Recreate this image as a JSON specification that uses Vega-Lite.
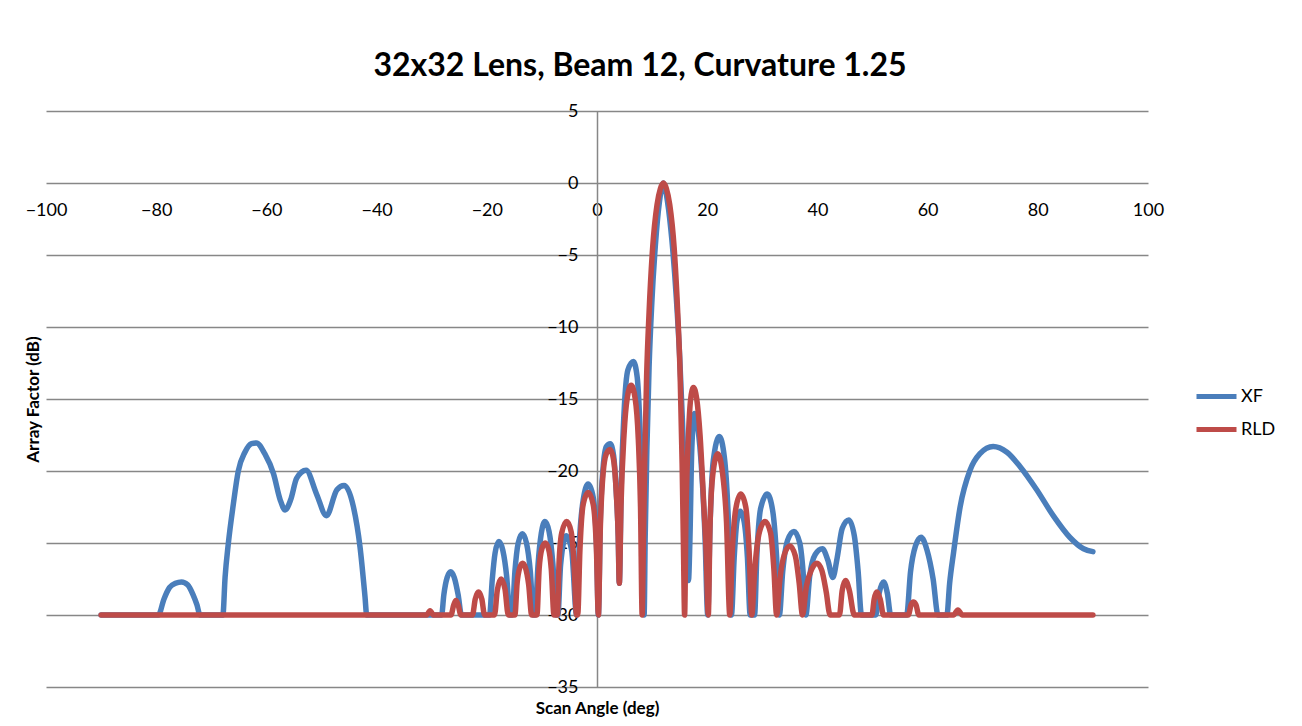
{
  "$schema": "https://vega.github.io/schema/vega-lite/v6.json",
  "autosize": {"type": "none"},
  "padding": {"left": 46, "top": 111, "right": 154, "bottom": 39},
  "width": 1102,
  "height": 576,
  "background": "white",
  "title": {
    "text": "32x32 Lens, Beam 12, Curvature 1.25",
    "font": "Lato",
    "fontSize": 32,
    "fontWeight": "bold",
    "color": "#000000",
    "anchor": "middle",
    "dx": 43,
    "offset": 19
  },
  "config": {
    "view": {"stroke": null},
    "font": "Lato"
  },
  "datasets": {
    "curves": [
      {"series": "XF", "angle": -90, "af": -30},
      {"series": "XF", "angle": -79.6, "af": -30},
      {"series": "XF", "angle": -78.6, "af": -28.9},
      {"series": "XF", "angle": -77.6, "af": -28.1},
      {"series": "XF", "angle": -76.5, "af": -27.8},
      {"series": "XF", "angle": -75.4, "af": -27.7},
      {"series": "XF", "angle": -74.3, "af": -27.9},
      {"series": "XF", "angle": -73.3, "af": -28.6},
      {"series": "XF", "angle": -72.6, "af": -29.3},
      {"series": "XF", "angle": -72.05, "af": -30},
      {"series": "XF", "angle": -67.9, "af": -30},
      {"series": "XF", "angle": -67.5, "af": -27.4},
      {"series": "XF", "angle": -66.9, "af": -25},
      {"series": "XF", "angle": -66.0, "af": -22.3},
      {"series": "XF", "angle": -65.1, "af": -20},
      {"series": "XF", "angle": -63.9, "af": -18.7},
      {"series": "XF", "angle": -62.7, "af": -18.1},
      {"series": "XF", "angle": -61.8, "af": -18.05},
      {"series": "XF", "angle": -60.3, "af": -18.8},
      {"series": "XF", "angle": -58.7, "af": -20.2},
      {"series": "XF", "angle": -57.5, "af": -22.0},
      {"series": "XF", "angle": -56.6, "af": -22.7},
      {"series": "XF", "angle": -55.6, "af": -22.0},
      {"series": "XF", "angle": -54.5, "af": -20.5},
      {"series": "XF", "angle": -52.8, "af": -19.95},
      {"series": "XF", "angle": -50.9, "af": -21.6},
      {"series": "XF", "angle": -49.1, "af": -23.1},
      {"series": "XF", "angle": -47.2, "af": -21.3},
      {"series": "XF", "angle": -45.9, "af": -21.0},
      {"series": "XF", "angle": -44.2, "af": -22.5},
      {"series": "XF", "angle": -43.0, "af": -25.3},
      {"series": "XF", "angle": -42.1, "af": -28.75},
      {"series": "XF", "angle": -41.8, "af": -30},
      {"series": "XF", "angle": -28.2, "af": -30},
      {"series": "XF", "angle": -27.8, "af": -28.6},
      {"series": "XF", "angle": -27.2, "af": -27.4},
      {"series": "XF", "angle": -26.55, "af": -27.0},
      {"series": "XF", "angle": -25.9, "af": -27.4},
      {"series": "XF", "angle": -25.2, "af": -28.6},
      {"series": "XF", "angle": -24.6, "af": -30},
      {"series": "XF", "angle": -19.5, "af": -30},
      {"series": "XF", "angle": -19.0, "af": -27.5},
      {"series": "XF", "angle": -18.5, "af": -25.7},
      {"series": "XF", "angle": -17.8, "af": -24.9},
      {"series": "XF", "angle": -17.1, "af": -25.5},
      {"series": "XF", "angle": -16.4, "af": -27.3},
      {"series": "XF", "angle": -15.8, "af": -30},
      {"series": "XF", "angle": -15.4, "af": -30},
      {"series": "XF", "angle": -14.9, "af": -27},
      {"series": "XF", "angle": -14.3, "af": -25},
      {"series": "XF", "angle": -13.55, "af": -24.35},
      {"series": "XF", "angle": -12.8, "af": -25},
      {"series": "XF", "angle": -12.1, "af": -27},
      {"series": "XF", "angle": -11.55, "af": -30},
      {"series": "XF", "angle": -11.25, "af": -30},
      {"series": "XF", "angle": -10.7, "af": -26.5},
      {"series": "XF", "angle": -10.1, "af": -24.3},
      {"series": "XF", "angle": -9.44, "af": -23.5},
      {"series": "XF", "angle": -8.7, "af": -24.2},
      {"series": "XF", "angle": -8.0, "af": -26.5},
      {"series": "XF", "angle": -7.4, "af": -30},
      {"series": "XF", "angle": -7.1, "af": -30},
      {"series": "XF", "angle": -6.6, "af": -26.5},
      {"series": "XF", "angle": -5.6, "af": -24.5},
      {"series": "XF", "angle": -4.6, "af": -25.5},
      {"series": "XF", "angle": -3.7, "af": -30},
      {"series": "XF", "angle": -3.2, "af": -25},
      {"series": "XF", "angle": -2.5, "af": -22},
      {"series": "XF", "angle": -1.6, "af": -20.9},
      {"series": "XF", "angle": -0.7, "af": -21.8},
      {"series": "XF", "angle": -0.1, "af": -25},
      {"series": "XF", "angle": 0.25, "af": -30},
      {"series": "XF", "angle": 0.6, "af": -23.5},
      {"series": "XF", "angle": 1.1, "af": -19.8},
      {"series": "XF", "angle": 1.7, "af": -18.3},
      {"series": "XF", "angle": 2.4, "af": -18.1},
      {"series": "XF", "angle": 3.0, "af": -18.9},
      {"series": "XF", "angle": 3.5, "af": -21.5},
      {"series": "XF", "angle": 3.85, "af": -24.5},
      {"series": "XF", "angle": 4.05, "af": -27.8},
      {"series": "XF", "angle": 4.4, "af": -21},
      {"series": "XF", "angle": 4.9, "af": -16},
      {"series": "XF", "angle": 5.6, "af": -13},
      {"series": "XF", "angle": 6.6, "af": -12.4},
      {"series": "XF", "angle": 7.3, "af": -13.5},
      {"series": "XF", "angle": 7.8, "af": -17},
      {"series": "XF", "angle": 8.2, "af": -22},
      {"series": "XF", "angle": 8.55, "af": -30},
      {"series": "XF", "angle": 8.75, "af": -24.5},
      {"series": "XF", "angle": 9.05, "af": -18.5},
      {"series": "XF", "angle": 9.45, "af": -12.8},
      {"series": "XF", "angle": 9.95, "af": -8.3},
      {"series": "XF", "angle": 10.6, "af": -4.3},
      {"series": "XF", "angle": 11.3, "af": -1.4},
      {"series": "XF", "angle": 12.05, "af": 0},
      {"series": "XF", "angle": 12.8, "af": -1.3},
      {"series": "XF", "angle": 13.6, "af": -4},
      {"series": "XF", "angle": 14.4, "af": -8},
      {"series": "XF", "angle": 15.0, "af": -12},
      {"series": "XF", "angle": 15.5, "af": -16.5},
      {"series": "XF", "angle": 16.0, "af": -21.5},
      {"series": "XF", "angle": 16.35, "af": -25},
      {"series": "XF", "angle": 16.6, "af": -27.6},
      {"series": "XF", "angle": 16.85, "af": -25},
      {"series": "XF", "angle": 17.2, "af": -18.5},
      {"series": "XF", "angle": 17.7, "af": -16.0},
      {"series": "XF", "angle": 18.3, "af": -17},
      {"series": "XF", "angle": 19.0, "af": -20},
      {"series": "XF", "angle": 19.6, "af": -24.5},
      {"series": "XF", "angle": 20.1, "af": -30},
      {"series": "XF", "angle": 20.5, "af": -24},
      {"series": "XF", "angle": 21.1, "af": -19.3},
      {"series": "XF", "angle": 22.2, "af": -17.6},
      {"series": "XF", "angle": 23.1, "af": -19},
      {"series": "XF", "angle": 23.8, "af": -23},
      {"series": "XF", "angle": 24.4, "af": -30},
      {"series": "XF", "angle": 24.9, "af": -26},
      {"series": "XF", "angle": 25.4, "af": -23.5},
      {"series": "XF", "angle": 26.0, "af": -22.8},
      {"series": "XF", "angle": 26.7, "af": -23.5},
      {"series": "XF", "angle": 27.3, "af": -26},
      {"series": "XF", "angle": 27.8, "af": -30},
      {"series": "XF", "angle": 28.6, "af": -30},
      {"series": "XF", "angle": 29.0, "af": -26},
      {"series": "XF", "angle": 29.7, "af": -22.6},
      {"series": "XF", "angle": 30.9, "af": -21.6},
      {"series": "XF", "angle": 31.9, "af": -22.8},
      {"series": "XF", "angle": 32.6, "af": -26},
      {"series": "XF", "angle": 33.1, "af": -30},
      {"series": "XF", "angle": 33.7, "af": -27},
      {"series": "XF", "angle": 34.6, "af": -24.8},
      {"series": "XF", "angle": 35.75, "af": -24.2},
      {"series": "XF", "angle": 36.8, "af": -25},
      {"series": "XF", "angle": 37.4, "af": -27},
      {"series": "XF", "angle": 37.9, "af": -30},
      {"series": "XF", "angle": 38.6, "af": -27.3},
      {"series": "XF", "angle": 39.6, "af": -25.8},
      {"series": "XF", "angle": 40.9, "af": -25.4},
      {"series": "XF", "angle": 41.9, "af": -26.2},
      {"series": "XF", "angle": 42.8, "af": -27.4},
      {"series": "XF", "angle": 43.6, "af": -26},
      {"series": "XF", "angle": 44.5, "af": -24},
      {"series": "XF", "angle": 45.7, "af": -23.4},
      {"series": "XF", "angle": 46.7, "af": -24.5},
      {"series": "XF", "angle": 47.4, "af": -27},
      {"series": "XF", "angle": 48.0, "af": -30},
      {"series": "XF", "angle": 50.6, "af": -30},
      {"series": "XF", "angle": 51.2, "af": -28.5},
      {"series": "XF", "angle": 52.0, "af": -27.7},
      {"series": "XF", "angle": 52.7, "af": -28.5},
      {"series": "XF", "angle": 53.3, "af": -30},
      {"series": "XF", "angle": 56.2, "af": -30},
      {"series": "XF", "angle": 56.9, "af": -27},
      {"series": "XF", "angle": 57.8, "af": -25.2},
      {"series": "XF", "angle": 58.8, "af": -24.6},
      {"series": "XF", "angle": 59.9, "af": -25.5},
      {"series": "XF", "angle": 61.0, "af": -27.5},
      {"series": "XF", "angle": 61.9, "af": -30},
      {"series": "XF", "angle": 63.5, "af": -30},
      {"series": "XF", "angle": 64.0, "af": -27.8},
      {"series": "XF", "angle": 64.7, "af": -25.7},
      {"series": "XF", "angle": 65.9, "af": -22.5},
      {"series": "XF", "angle": 67.7, "af": -19.95},
      {"series": "XF", "angle": 69.5, "af": -18.8},
      {"series": "XF", "angle": 71.9, "af": -18.3},
      {"series": "XF", "angle": 74.4, "af": -18.7},
      {"series": "XF", "angle": 76.8, "af": -19.7},
      {"series": "XF", "angle": 79.8, "af": -21.3},
      {"series": "XF", "angle": 82.8, "af": -23.1},
      {"series": "XF", "angle": 85.8, "af": -24.6},
      {"series": "XF", "angle": 88.3, "af": -25.4},
      {"series": "XF", "angle": 90, "af": -25.6},

      {"series": "RLD", "angle": -90, "af": -30},
      {"series": "RLD", "angle": -30.9, "af": -30},
      {"series": "RLD", "angle": -30.3, "af": -29.7},
      {"series": "RLD", "angle": -29.7, "af": -30},
      {"series": "RLD", "angle": -26.5, "af": -30},
      {"series": "RLD", "angle": -26.0, "af": -29.3},
      {"series": "RLD", "angle": -25.6, "af": -29.0},
      {"series": "RLD", "angle": -25.2, "af": -29.3},
      {"series": "RLD", "angle": -24.7, "af": -30},
      {"series": "RLD", "angle": -22.6, "af": -30},
      {"series": "RLD", "angle": -22.1, "af": -28.9},
      {"series": "RLD", "angle": -21.5, "af": -28.4},
      {"series": "RLD", "angle": -20.9, "af": -28.9},
      {"series": "RLD", "angle": -20.4, "af": -30},
      {"series": "RLD", "angle": -18.6, "af": -30},
      {"series": "RLD", "angle": -18.1, "af": -28.3},
      {"series": "RLD", "angle": -17.4, "af": -27.5},
      {"series": "RLD", "angle": -16.7, "af": -28.2},
      {"series": "RLD", "angle": -16.1, "af": -30},
      {"series": "RLD", "angle": -14.9, "af": -30},
      {"series": "RLD", "angle": -14.5, "af": -27.8},
      {"series": "RLD", "angle": -14.0, "af": -26.7},
      {"series": "RLD", "angle": -13.5, "af": -26.4},
      {"series": "RLD", "angle": -13.0, "af": -26.7},
      {"series": "RLD", "angle": -12.4, "af": -27.9},
      {"series": "RLD", "angle": -11.85, "af": -30},
      {"series": "RLD", "angle": -10.9, "af": -30},
      {"series": "RLD", "angle": -10.5, "af": -26.8},
      {"series": "RLD", "angle": -10.0, "af": -25.4},
      {"series": "RLD", "angle": -9.4, "af": -25.0},
      {"series": "RLD", "angle": -8.8, "af": -25.4},
      {"series": "RLD", "angle": -8.3, "af": -26.8},
      {"series": "RLD", "angle": -7.8, "af": -30},
      {"series": "RLD", "angle": -7.2, "af": -30},
      {"series": "RLD", "angle": -6.9, "af": -26.5},
      {"series": "RLD", "angle": -6.4, "af": -24.3},
      {"series": "RLD", "angle": -5.5, "af": -23.5},
      {"series": "RLD", "angle": -4.7, "af": -24.2},
      {"series": "RLD", "angle": -4.2, "af": -26.2},
      {"series": "RLD", "angle": -3.7, "af": -30},
      {"series": "RLD", "angle": -3.5, "af": -30},
      {"series": "RLD", "angle": -3.1, "af": -25.5},
      {"series": "RLD", "angle": -2.5, "af": -22.3},
      {"series": "RLD", "angle": -1.6, "af": -21.5},
      {"series": "RLD", "angle": -0.7, "af": -22.3},
      {"series": "RLD", "angle": -0.1, "af": -25.5},
      {"series": "RLD", "angle": 0.25, "af": -30},
      {"series": "RLD", "angle": 0.6, "af": -24},
      {"series": "RLD", "angle": 1.1, "af": -20.2},
      {"series": "RLD", "angle": 1.7, "af": -18.8},
      {"series": "RLD", "angle": 2.36, "af": -18.5},
      {"series": "RLD", "angle": 3.0, "af": -19.2},
      {"series": "RLD", "angle": 3.5, "af": -21.5},
      {"series": "RLD", "angle": 3.85, "af": -24.5},
      {"series": "RLD", "angle": 4.05, "af": -27.8},
      {"series": "RLD", "angle": 4.35, "af": -22.5},
      {"series": "RLD", "angle": 4.9, "af": -17.5},
      {"series": "RLD", "angle": 5.5, "af": -14.9},
      {"series": "RLD", "angle": 6.2, "af": -14.05},
      {"series": "RLD", "angle": 6.9, "af": -14.9},
      {"series": "RLD", "angle": 7.5, "af": -17.8},
      {"series": "RLD", "angle": 7.9, "af": -22.5},
      {"series": "RLD", "angle": 8.2, "af": -30},
      {"series": "RLD", "angle": 8.4, "af": -25.5},
      {"series": "RLD", "angle": 8.65, "af": -19.5},
      {"series": "RLD", "angle": 9.0, "af": -13.5},
      {"series": "RLD", "angle": 9.45, "af": -9},
      {"series": "RLD", "angle": 10.1, "af": -4.5},
      {"series": "RLD", "angle": 10.9, "af": -1.5},
      {"series": "RLD", "angle": 11.5, "af": -0.4},
      {"series": "RLD", "angle": 12.05, "af": 0},
      {"series": "RLD", "angle": 12.6, "af": -0.4},
      {"series": "RLD", "angle": 13.2, "af": -1.5},
      {"series": "RLD", "angle": 14.0, "af": -4.5},
      {"series": "RLD", "angle": 14.65, "af": -9},
      {"series": "RLD", "angle": 15.1, "af": -13.5},
      {"series": "RLD", "angle": 15.45, "af": -19.5},
      {"series": "RLD", "angle": 15.7, "af": -25.5},
      {"series": "RLD", "angle": 15.9, "af": -30},
      {"series": "RLD", "angle": 16.15, "af": -23},
      {"series": "RLD", "angle": 16.6, "af": -17.5},
      {"series": "RLD", "angle": 17.0, "af": -15},
      {"series": "RLD", "angle": 17.5, "af": -14.2},
      {"series": "RLD", "angle": 18.1, "af": -15},
      {"series": "RLD", "angle": 18.7, "af": -17.5},
      {"series": "RLD", "angle": 19.4, "af": -22.5},
      {"series": "RLD", "angle": 19.8, "af": -25.5},
      {"series": "RLD", "angle": 20.2, "af": -30},
      {"series": "RLD", "angle": 20.5, "af": -24},
      {"series": "RLD", "angle": 21.0, "af": -20.3},
      {"series": "RLD", "angle": 21.9, "af": -18.8},
      {"series": "RLD", "angle": 22.8, "af": -20.2},
      {"series": "RLD", "angle": 23.5, "af": -23.5},
      {"series": "RLD", "angle": 24.1, "af": -30},
      {"series": "RLD", "angle": 24.5, "af": -26},
      {"series": "RLD", "angle": 25.2, "af": -22.6},
      {"series": "RLD", "angle": 26.1, "af": -21.6},
      {"series": "RLD", "angle": 27.0, "af": -22.5},
      {"series": "RLD", "angle": 27.6, "af": -25.5},
      {"series": "RLD", "angle": 28.1, "af": -30},
      {"series": "RLD", "angle": 28.6, "af": -27},
      {"series": "RLD", "angle": 29.5, "af": -24.2},
      {"series": "RLD", "angle": 30.5, "af": -23.5},
      {"series": "RLD", "angle": 31.5, "af": -24.3},
      {"series": "RLD", "angle": 32.1, "af": -26.8},
      {"series": "RLD", "angle": 32.6, "af": -30},
      {"series": "RLD", "angle": 33.2, "af": -27.5},
      {"series": "RLD", "angle": 34.0, "af": -25.8},
      {"series": "RLD", "angle": 35.0, "af": -25.2},
      {"series": "RLD", "angle": 36.0, "af": -25.9},
      {"series": "RLD", "angle": 36.7, "af": -27.8},
      {"series": "RLD", "angle": 37.3, "af": -30},
      {"series": "RLD", "angle": 38.0, "af": -28},
      {"series": "RLD", "angle": 39.0, "af": -26.8},
      {"series": "RLD", "angle": 39.9, "af": -26.4},
      {"series": "RLD", "angle": 40.8, "af": -26.9},
      {"series": "RLD", "angle": 41.6, "af": -28.4},
      {"series": "RLD", "angle": 42.3, "af": -30},
      {"series": "RLD", "angle": 44.0, "af": -30},
      {"series": "RLD", "angle": 44.5, "af": -28.3},
      {"series": "RLD", "angle": 45.1, "af": -27.6},
      {"series": "RLD", "angle": 45.8, "af": -28.3},
      {"series": "RLD", "angle": 46.7, "af": -30},
      {"series": "RLD", "angle": 49.9, "af": -30},
      {"series": "RLD", "angle": 50.3, "af": -28.9},
      {"series": "RLD", "angle": 50.8, "af": -28.4},
      {"series": "RLD", "angle": 51.4, "af": -28.9},
      {"series": "RLD", "angle": 52.0, "af": -30},
      {"series": "RLD", "angle": 56.5, "af": -30},
      {"series": "RLD", "angle": 57.0, "af": -29.3},
      {"series": "RLD", "angle": 57.4, "af": -29.1},
      {"series": "RLD", "angle": 57.9, "af": -29.3},
      {"series": "RLD", "angle": 58.4, "af": -30},
      {"series": "RLD", "angle": 64.7, "af": -30},
      {"series": "RLD", "angle": 65.5, "af": -29.65},
      {"series": "RLD", "angle": 66.3, "af": -30},
      {"series": "RLD", "angle": 90, "af": -30}
    ]
  },
  "data": {"name": "curves"},
  "encoding": {
    "x": {
      "field": "angle",
      "type": "quantitative",
      "scale": {"domain": [-100, 100], "nice": false, "zero": false},
      "axis": {
        "orient": "bottom",
        "offset": -504,
        "values": [-100, -80, -60, -40, -20, 0, 20, 40, 60, 80, 100],
        "grid": false,
        "domain": false,
        "ticks": false,
        "tickSize": 0,
        "labelPadding": 18,
        "labelFont": "Lato",
        "labelFontSize": 18,
        "labelColor": "#000000",
        "labelFlush": false,
        "labelOverlap": false,
        "title": "Scan Angle (deg)",
        "titleFont": "Lato",
        "titleFontSize": 17,
        "titleFontWeight": "bold",
        "titleColor": "#000000",
        "titleY": 525,
        "titleBaseline": "middle"
      }
    },
    "y": {
      "field": "af",
      "type": "quantitative",
      "scale": {"domain": [-35, 5], "nice": false, "zero": false},
      "axis": {
        "orient": "left",
        "offset": -551,
        "values": [5, 0, -5, -10, -15, -20, -25, -30, -35],
        "grid": true,
        "gridColor": "#878787",
        "gridWidth": 1.5,
        "gridOpacity": 1,
        "domain": true,
        "domainColor": "#878787",
        "domainWidth": 1.5,
        "ticks": false,
        "tickSize": 0,
        "labelPadding": 19,
        "labelFont": "Lato",
        "labelFontSize": 18,
        "labelColor": "#000000",
        "labelFlush": false,
        "labelOverlap": false,
        "title": "Array Factor (dB)",
        "titleFont": "Lato",
        "titleFontSize": 17,
        "titleFontWeight": "bold",
        "titleColor": "#000000",
        "titleX": -564,
        "titleBaseline": "middle"
      }
    },
    "color": {
      "field": "series",
      "type": "nominal",
      "scale": {"domain": ["XF", "RLD"], "range": ["#4A7EBB", "#BE4B48"]},
      "legend": {
        "orient": "none",
        "legendX": 1148,
        "legendY": 263,
        "title": null,
        "symbolType": "stroke",
        "symbolSize": 1600,
        "symbolStrokeWidth": 5,
        "labelFont": "Lato",
        "labelFontSize": 18,
        "labelColor": "#000000",
        "labelOffset": 2,
        "rowPadding": 0,
        "padding": 0
      }
    }
  },
  "layer": [
    {
      "transform": [{"filter": "datum.series === 'XF'"}],
      "mark": {"type": "line", "strokeWidth": 5.5, "strokeCap": "round", "strokeJoin": "round", "interpolate": "monotone"}
    },
    {
      "transform": [{"filter": "datum.series === 'RLD'"}],
      "mark": {"type": "line", "strokeWidth": 5.5, "strokeCap": "round", "strokeJoin": "round", "interpolate": "monotone"}
    }
  ]
}
